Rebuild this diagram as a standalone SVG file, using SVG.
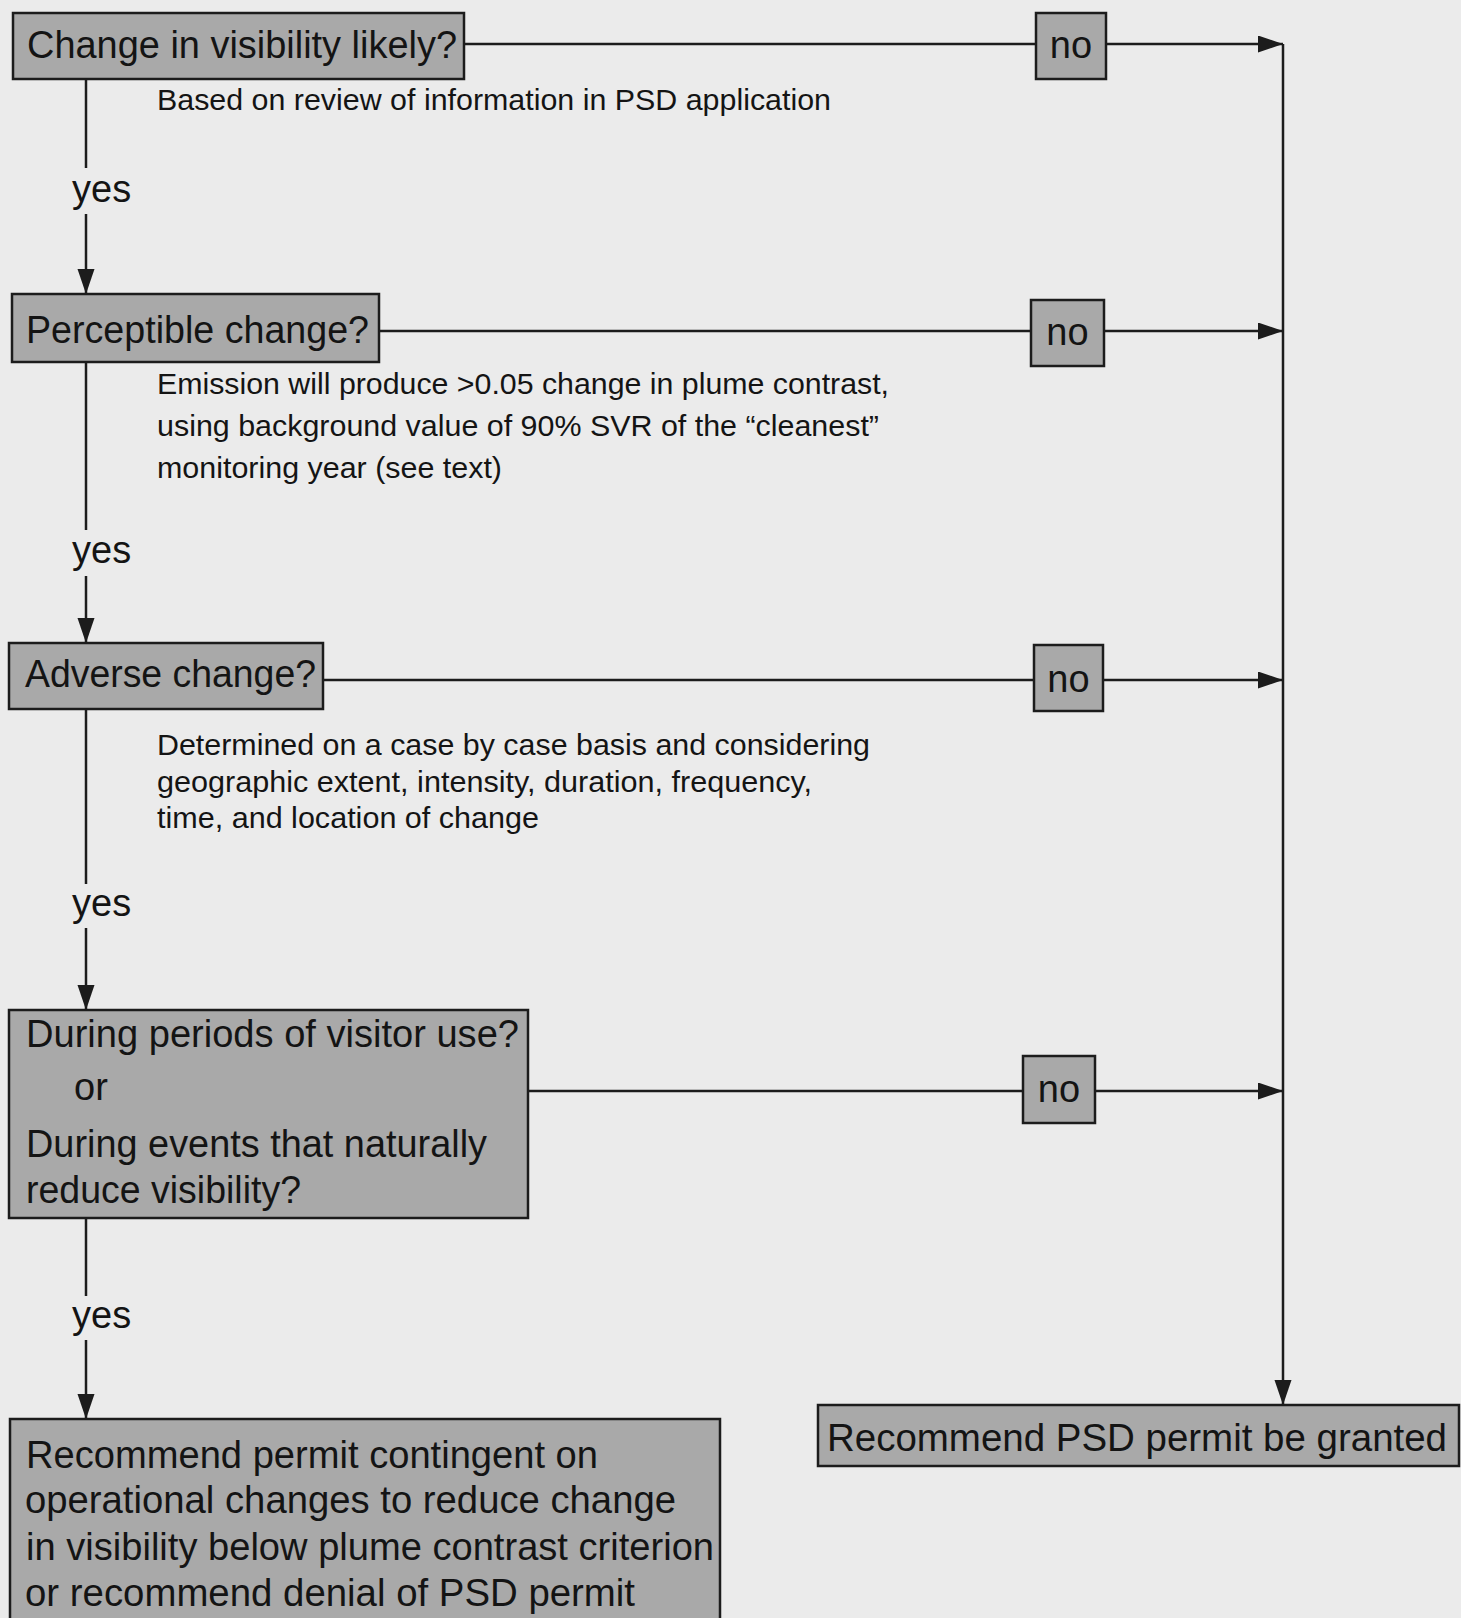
<svg xmlns="http://www.w3.org/2000/svg" width="1461" height="1618" viewBox="0 0 1461 1618">
  <style>
    .box { fill: #a9a9a9; stroke: #1c1c1c; stroke-width: 2.5; }
    .t { font-family: "Liberation Sans", Arial, Helvetica, sans-serif; fill: #141414; }
    .big { font-size: 38px; }
    .small { font-size: 30px; }
    .conn { stroke: #1c1c1c; stroke-width: 2.5; fill: none; }
  </style>
  <defs>
    <marker id="arr" markerUnits="userSpaceOnUse" markerWidth="26" markerHeight="18" refX="25" refY="8.5" orient="auto">
      <path d="M0,0 L25,8.5 L0,17 z" fill="#1c1c1c"/>
    </marker>
  </defs>
  <rect x="0" y="0" width="1461" height="1618" fill="#ebebeb"/>

  <g id="connectors">
    <!-- left yes chain -->
    <line class="conn" x1="86" y1="79" x2="86" y2="168"/>
    <line class="conn" x1="86" y1="214" x2="86" y2="294" marker-end="url(#arr)"/>
    <line class="conn" x1="86" y1="362" x2="86" y2="530"/>
    <line class="conn" x1="86" y1="576" x2="86" y2="643" marker-end="url(#arr)"/>
    <line class="conn" x1="86" y1="709" x2="86" y2="884"/>
    <line class="conn" x1="86" y1="928" x2="86" y2="1010" marker-end="url(#arr)"/>
    <line class="conn" x1="86" y1="1218" x2="86" y2="1296"/>
    <line class="conn" x1="86" y1="1340" x2="86" y2="1419" marker-end="url(#arr)"/>
    <!-- no branches -->
    <line class="conn" x1="464" y1="44" x2="1036" y2="44"/>
    <line class="conn" x1="1106" y1="44" x2="1283" y2="44" marker-end="url(#arr)"/>
    <line class="conn" x1="379" y1="331" x2="1031" y2="331"/>
    <line class="conn" x1="1104" y1="331" x2="1283" y2="331" marker-end="url(#arr)"/>
    <line class="conn" x1="323" y1="680" x2="1034" y2="680"/>
    <line class="conn" x1="1103" y1="680" x2="1283" y2="680" marker-end="url(#arr)"/>
    <line class="conn" x1="528" y1="1091" x2="1023" y2="1091"/>
    <line class="conn" x1="1095" y1="1091" x2="1283" y2="1091" marker-end="url(#arr)"/>
    <!-- right collector -->
    <line class="conn" x1="1283" y1="44" x2="1283" y2="1405" marker-end="url(#arr)"/>
  </g>

  <g id="labels">
    <text class="t small" x="157" y="110" textLength="674" lengthAdjust="spacingAndGlyphs">Based on review of information in PSD application</text>
    <text class="t big" x="72" y="202">yes</text>
    <text class="t small" x="157" y="394" textLength="732" lengthAdjust="spacingAndGlyphs">Emission will produce &gt;0.05 change in plume contrast,</text>
    <text class="t small" x="157" y="436" textLength="722" lengthAdjust="spacingAndGlyphs">using background value of 90% SVR of the “cleanest”</text>
    <text class="t small" x="157" y="478" textLength="345" lengthAdjust="spacingAndGlyphs">monitoring year (see text)</text>
    <text class="t big" x="72" y="563">yes</text>
    <text class="t small" x="157" y="755" textLength="713" lengthAdjust="spacingAndGlyphs">Determined on a case by case basis and considering</text>
    <text class="t small" x="157" y="792" textLength="655" lengthAdjust="spacingAndGlyphs">geographic extent, intensity, duration, frequency,</text>
    <text class="t small" x="157" y="828" textLength="382" lengthAdjust="spacingAndGlyphs">time, and location of change</text>
    <text class="t big" x="72" y="916">yes</text>
    <text class="t big" x="72" y="1328">yes</text>
  </g>

  <g id="n1">
    <rect class="box" x="13" y="13" width="451" height="66"/>
    <text class="t big" x="27" y="58" textLength="430" lengthAdjust="spacingAndGlyphs">Change in visibility likely?</text>
  </g>
  <g id="no1">
    <rect class="box" x="1036" y="13" width="70" height="66"/>
    <text class="t big" x="1071" y="58" text-anchor="middle">no</text>
  </g>

  <g id="n2">
    <rect class="box" x="12" y="294" width="367" height="68"/>
    <text class="t big" x="26" y="343" textLength="343" lengthAdjust="spacingAndGlyphs">Perceptible change?</text>
  </g>
  <g id="no2">
    <rect class="box" x="1031" y="300" width="73" height="66"/>
    <text class="t big" x="1067.5" y="345" text-anchor="middle">no</text>
  </g>

  <g id="n3">
    <rect class="box" x="9" y="643" width="314" height="66"/>
    <text class="t big" x="25" y="687" textLength="291" lengthAdjust="spacingAndGlyphs">Adverse change?</text>
  </g>
  <g id="no3">
    <rect class="box" x="1034" y="645" width="69" height="66"/>
    <text class="t big" x="1068.5" y="692" text-anchor="middle">no</text>
  </g>

  <g id="n4">
    <rect class="box" x="9" y="1010" width="519" height="208"/>
    <text class="t big" x="26" y="1047" textLength="493" lengthAdjust="spacingAndGlyphs">During periods of visitor use?</text>
    <text class="t big" x="74" y="1100">or</text>
    <text class="t big" x="26" y="1157" textLength="461" lengthAdjust="spacingAndGlyphs">During events that naturally</text>
    <text class="t big" x="26" y="1203" textLength="275" lengthAdjust="spacingAndGlyphs">reduce visibility?</text>
  </g>
  <g id="no4">
    <rect class="box" x="1023" y="1056" width="72" height="67"/>
    <text class="t big" x="1059" y="1102" text-anchor="middle">no</text>
  </g>

  <g id="n5">
    <rect class="box" x="818" y="1405" width="641" height="61"/>
    <text class="t big" x="827" y="1451" textLength="620" lengthAdjust="spacingAndGlyphs">Recommend PSD permit be granted</text>
  </g>

  <g id="n6">
    <rect class="box" x="10" y="1419" width="710" height="205"/>
    <text class="t big" x="26" y="1468" textLength="572" lengthAdjust="spacingAndGlyphs">Recommend permit contingent on</text>
    <text class="t big" x="25" y="1513" textLength="651" lengthAdjust="spacingAndGlyphs">operational changes to reduce change</text>
    <text class="t big" x="26" y="1560" textLength="688" lengthAdjust="spacingAndGlyphs">in visibility below plume contrast criterion</text>
    <text class="t big" x="25" y="1606" textLength="610" lengthAdjust="spacingAndGlyphs">or recommend denial of PSD permit</text>
  </g>
</svg>
